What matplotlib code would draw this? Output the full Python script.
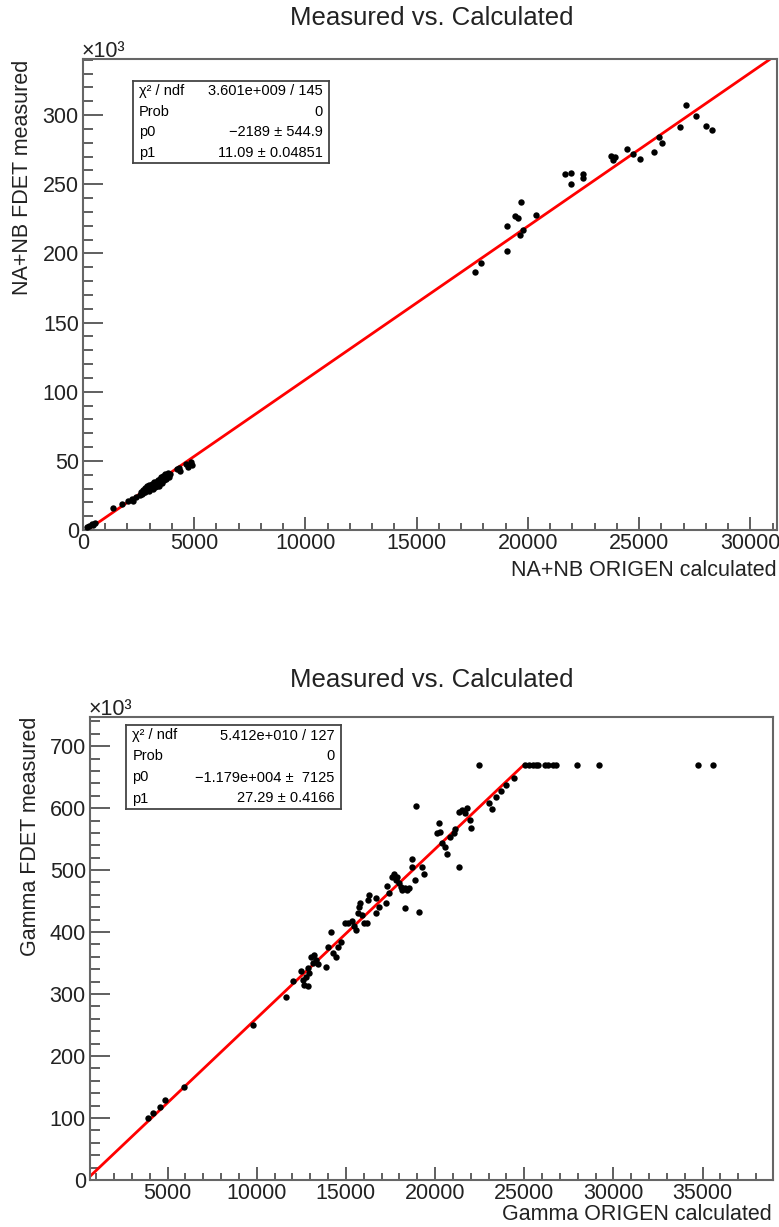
import numpy as np
import matplotlib
matplotlib.use("Agg")
import matplotlib.pyplot as plt
from matplotlib.ticker import MultipleLocator, FuncFormatter

plt.rcParams['font.family'] = ['Liberation Sans', 'DejaVu Sans']

# ---- top: NA+NB (x: ORIGEN calculated, y: FDET measured in 1e3)
nanb_x = [165, 260, 390, 460, 540, 1360, 1750, 2040, 2190, 2250, 2400, 2560, 2600, 2650,
          2700, 2750, 2790, 2800, 2850, 2880, 2930, 2950, 2980, 3000, 3050, 3090, 3100,
          3130, 3160, 3200, 3230, 3250, 3280, 3300, 3330, 3350, 3380, 3400, 3420, 3450,
          3480, 3500, 3530, 3550, 3580, 3600, 3620, 3650, 3680, 3700, 3720, 3760, 3800,
          3850, 3900, 4210, 4300, 4360, 4630, 4700, 4840, 4900,
          17610, 17880, 19050, 19050, 19410, 19540, 19680, 19770, 19630, 20350, 21650,
          21920, 21920, 22460, 22500, 23720, 23810, 23900, 24440, 24710, 25020, 25650,
          26050, 25900, 26820, 27090, 27580, 27990, 28300]
nanb_y = [2.4, 3.0, 4.3, 3.8, 5.3, 15.7, 18.5, 21.2, 22.2, 20.8, 24.0, 25.4, 27.5, 26.0,
          28.8, 27.2, 27.8, 30.5, 29.0, 31.5, 30.2, 28.0, 32.5, 30.0, 31.0, 31.4, 33.5,
          29.5, 32.0, 34.5, 32.6, 30.8, 35.0, 33.2, 31.5, 36.0, 33.8, 35.2, 32.0, 37.0,
          34.5, 38.0, 36.2, 33.8, 37.5, 39.0, 35.8, 38.2, 38.6, 40.5, 37.0, 39.9, 41.0,
          38.5, 40.8, 44.0, 45.0, 42.3, 47.8, 45.5, 49.3, 47.0,
          186.2, 192.7, 219.6, 201.4, 226.8, 225.3, 236.9, 216.7, 213.0, 227.5, 257.2,
          258.0, 249.9, 257.2, 254.3, 270.3, 267.4, 269.5, 275.3, 271.7, 268.1, 273.2,
          279.7, 284.0, 291.0, 307.2, 299.3, 292.0, 289.0]
nanb_fit = (-2189, 11.09)
nanb_stats = [("χ² / ndf", "3.601e+009 / 145"), ("Prob", "0"),
              ("p0", "−2189 ± 544.9"), ("p1", "11.09 ± 0.04851")]

# ---- bottom: Gamma
gam_x = [3900, 4200, 4550, 4850, 5900, 9770,
         11640, 12050, 12480, 12570, 12660, 12850, 12760, 12940, 12900, 13130, 13040,
         13220, 13320, 13410, 13870, 14000, 14150, 14300, 14470, 14530, 14710, 14950,
         15140, 15360, 15460, 15590, 15700, 15740, 15790, 15920, 16020, 16200, 16260,
         16300, 16670, 16710, 16860, 17230, 17320, 17420, 17600, 17700, 17790, 17880,
         17980, 18070, 18160, 18310, 18440, 18530, 18310, 18720, 18680, 18870, 19090,
         19280, 19370, 18950,
         20120, 20210, 20300, 20400, 20580, 20680, 20860, 21050, 21140, 21330, 21330,
         21520, 21700, 21800, 21980, 22040, 23010, 23200, 23400, 23700, 24000, 24410,
         22490, 25020, 25250, 25470, 25650, 25800, 26180, 26360, 26590, 26770, 27950,
         29200, 34720, 35600]
gam_y = [100, 108, 118, 129, 150, 250,
         295.8, 321.6, 337.7, 322.6, 314.6, 313.5, 328.0, 333.4, 341.5, 349.5, 360.3,
         363.0, 354.9, 347.9, 344.2, 376.4, 399.5, 365.7, 360.3, 376.4, 384.5, 414.0,
         414.0, 418.4, 409.7, 403.3, 430.2, 440.9, 447.4, 427.5, 414.0, 414.0, 451.7,
         459.8, 454.4, 430.2, 440.9, 446.3, 474.3, 462.4, 489.3, 493.6, 484.0, 488.3,
         478.6, 472.1, 467.8, 470.5, 467.8, 470.5, 438.2, 505.5, 517.3, 484.0, 432.9,
         505.5, 493.6, 603.3,
         559.2, 576.4, 561.9, 543.1, 537.7, 525.9, 553.9, 559.2, 565.7, 505.5, 594.2,
         596.9, 591.5, 599.6, 580.7, 567.3, 607.6, 597.9, 618.0, 628.0, 638.0, 648.0,
         670, 670, 670, 670, 670, 670, 670, 670, 670, 670, 670,
         670, 670, 670]
gam_fit = (-11790, 27.29)
gam_fit_max = 25000
gam_stats = [("χ² / ndf", "5.412e+010 / 127"), ("Prob", "0"),
             ("p0", "−1.179e+004 ±  7125"), ("p1", "27.29 ± 0.4166")]

W, H = 779, 1227
fig = plt.figure(figsize=(W / 100, H / 100), dpi=100)
GREY = '#444444'


def fr(x0, y0, x1, y1):
    # pixel box -> figure fraction [left, bottom, width, height]
    return [x0 / W, 1 - y1 / H, (x1 - x0) / W, (y1 - y0) / H]


def panel(rect, xs, ys, fit, xlim, ylim, xmaj, ymaj, fit_range):
    ax = fig.add_axes(rect)
    ax.set_xlim(*xlim)
    ax.set_ylim(*ylim)
    xf = np.linspace(fit_range[0], fit_range[1], 200)
    ax.plot(xf, (fit[0] + fit[1] * xf) / 1000, color='#ff0000', lw=2, zorder=2)
    ax.plot(xs, ys, 'o', color='black', ms=4.6, mew=0, zorder=3)
    ax.xaxis.set_major_locator(MultipleLocator(xmaj))
    ax.xaxis.set_minor_locator(MultipleLocator(xmaj / 5))
    ax.yaxis.set_major_locator(MultipleLocator(ymaj))
    ax.yaxis.set_minor_locator(MultipleLocator(ymaj / 5))
    ax.xaxis.set_major_formatter(FuncFormatter(lambda v, p: f"{v:.0f}"))
    ax.yaxis.set_major_formatter(FuncFormatter(lambda v, p: f"{v:.0f}"))
    ax.tick_params(which='both', direction='in', top=False, right=False,
                   colors=GREY, labelcolor='#222222', labelsize=15.5, width=1.2)
    ax.tick_params(axis='y', which='major', length=14.5, pad=3)
    ax.tick_params(axis='y', which='minor', length=7.5)
    ax.tick_params(axis='x', which='major', length=9.5, pad=2.5)
    ax.tick_params(axis='x', which='minor', length=5)
    for s in ax.spines.values():
        s.set_color('#666666')
        s.set_linewidth(1.5)
    return ax


def stats_box(rect, rows):
    sb = fig.add_axes(rect)
    sb.set_xticks([])
    sb.set_yticks([])
    for s in sb.spines.values():
        s.set_color('#444444')
        s.set_linewidth(1.3)
    n = len(rows)
    for i, (k, v) in enumerate(rows):
        yy = 1 - (i + 0.5) / n
        sb.text(0.03, yy, k, ha='left', va='center', fontsize=10.5, transform=sb.transAxes)
        sb.text(0.97, yy, v, ha='right', va='center', fontsize=10.5, transform=sb.transAxes)


# top panel
ax1 = panel(fr(83, 59, 777, 530), nanb_x, nanb_y, nanb_fit, (0, 31200), (0, 340.5),
            5000, 50, (0, 31200))
fig.text(432 / W, 1 - 18 / H, "Measured vs. Calculated", ha='center', va='center',
         fontsize=18.5, color='#222222')
fig.text(777 / W, 1 - 571 / H, "NA+NB ORIGEN calculated", ha='right', va='center',
         fontsize=15.5, color='#222222')
fig.text(23 / W, 1 - 60 / H, "NA+NB FDET measured", ha='center', va='top', rotation=90,
         fontsize=15.5, color='#222222')
fig.text(82 / W, 1 - 57 / H, "×10³", ha='left', va='baseline', fontsize=15.5, color='#222222')
stats_box(fr(133, 81, 329, 163), nanb_stats)

# bottom panel
ax2 = panel(fr(90, 717, 773, 1180), gam_x, gam_y, gam_fit, (650, 38950), (0, 747),
            5000, 100, (650, gam_fit_max))
fig.text(432 / W, 1 - 680 / H, "Measured vs. Calculated", ha='center', va='center',
         fontsize=18.5, color='#222222')
fig.text(772 / W, 1 - 1215 / H, "Gamma ORIGEN calculated", ha='right', va='center',
         fontsize=15.5, color='#222222')
fig.text(31 / W, 1 - 717 / H, "Gamma FDET measured", ha='center', va='top', rotation=90,
         fontsize=15.5, color='#222222')
fig.text(89 / W, 1 - 715 / H, "×10³", ha='left', va='baseline', fontsize=15.5, color='#222222')
stats_box(fr(126, 725, 341, 809), gam_stats)

fig.savefig("out.png", dpi=100)
